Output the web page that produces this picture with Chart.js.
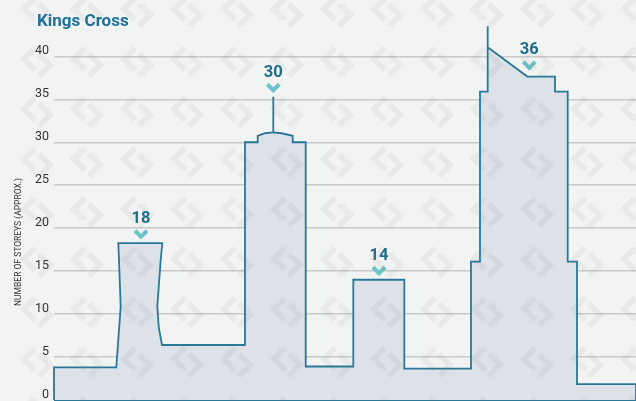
<!DOCTYPE html>
<html>
<head>
<meta charset="utf-8">
<script src="https://cdn.jsdelivr.net/npm/chart.js@4.4.1/dist/chart.umd.min.js"></script>
<style>
  html, body { margin: 0; padding: 0; background: #f2f3f3; }
  #wrap { position: relative; width: 636px; height: 401px; }
</style>
</head>
<body>
<div id="wrap"><canvas id="skylineChart"></canvas></div>
<script>
// Skyline outline, left to right: distance along the street and height in storeys
const outlineX = [0, 0, 62.3, 66.7, 65, 64.3, 108.3, 106.7, 103.3, 104.7, 108, 191, 191, 203.7, 203.7, 211, 219.3, 219.3, 219.3, 227.5, 238.7, 238.7, 251.7, 251.7, 299.3, 299.3, 350.3, 350.3, 417, 417, 426, 426, 433.7, 433.7, 433.7, 473.3, 501, 501, 513.7, 513.7, 523, 523, 582, 582];
const outlineY = [0, 3.8, 3.8, 10.9, 16.3, 18.25, 18.25, 16.3, 10.9, 8.5, 6.4, 6.4, 30.0, 30.0, 30.75, 31.05, 31.15, 35.3, 31.15, 31.05, 30.75, 30.0, 30.0, 3.9, 3.9, 14.0, 14.0, 3.65, 3.65, 16.1, 16.1, 35.9, 35.9, 43.5, 41.05, 37.65, 37.65, 35.9, 35.9, 16.1, 16.1, 1.85, 1.85, 0];

// Street level
const groundX = [0, 582];
const groundY = [0, 0];

// Height call-outs
const peakX = [87, 219.3, 325, 475.3];
const peakY = [18.25, 35.3, 14.0, 37.9];
const peakLabels = ['18', '30', '14', '36'];

const storeyTicks = [0, 5, 10, 15, 20, 25, 30, 35, 40];

const lineColor = '#2a7896';

const backgroundPlugin = {
    id: 'background',
    beforeDraw(chart) {
        const ctx = chart.ctx;
        ctx.save();
        ctx.fillStyle = '#f2f3f3';
        ctx.fillRect(0, 0, chart.width, chart.height);
        ctx.restore();
    }
};

const peakLabelsPlugin = {
    id: 'peakLabels',
    afterDatasetsDraw(chart) {
        const {ctx, scales: {x, y}} = chart;
        ctx.save();
        peakX.forEach((v, i) => {
            const px = x.getPixelForValue(v);
            const py = y.getPixelForValue(peakY[i]);
            ctx.strokeStyle = '#6cc4c6';
            ctx.lineWidth = 4;
            ctx.lineJoin = 'miter';
            ctx.beginPath();
            ctx.moveTo(px - 6, py - 12.5);
            ctx.lineTo(px, py - 6.5);
            ctx.lineTo(px + 6, py - 12.5);
            ctx.stroke();
            ctx.fillStyle = '#1f6d8c';
            ctx.font = 'bold 16.5px Roboto';
            ctx.textAlign = 'center';
            ctx.textBaseline = 'alphabetic';
            ctx.fillText(peakLabels[i], px, py - 20);
        });
        ctx.restore();
    }
};

const textPlugin = {
    id: 'texts',
    afterDraw(chart) {
        const ctx = chart.ctx;
        ctx.save();
        ctx.fillStyle = '#1c7099';
        ctx.font = 'bold 17px Roboto';
        ctx.textAlign = 'left';
        ctx.textBaseline = 'alphabetic';
        ctx.fillText('Kings Cross', 37, 26);

        ctx.translate(19, 242);
        ctx.rotate(-Math.PI / 2);
        ctx.fillStyle = '#333333';
        ctx.font = '8.5px Roboto';
        ctx.textAlign = 'center';
        ctx.textBaseline = 'middle';
        ctx.fillText('NUMBER OF STOREYS (APPROX.)', 0, 0);
        ctx.restore();
    }
};

// faint logo watermark laid over the whole picture
const watermarkPlugin = {
    id: 'watermark',
    afterDraw(chart) {
        const ctx = chart.ctx;
        ctx.save();
        ctx.strokeStyle = 'rgba(110, 120, 120, 0.08)';
        ctx.lineWidth = 6;
        ctx.lineJoin = 'miter';
        for (let cx = 37; cx < chart.width + 30; cx += 50) {
            for (let cy = 12; cy < chart.height + 30; cy += 50) {
                ctx.beginPath();
                ctx.moveTo(cx - 2, cy - 14);
                ctx.lineTo(cx - 13, cy - 3);
                ctx.lineTo(cx - 2, cy + 8);
                ctx.moveTo(cx + 2, cy - 8);
                ctx.lineTo(cx + 13, cy + 3);
                ctx.lineTo(cx + 2, cy + 14);
                ctx.stroke();
            }
        }
        ctx.restore();
    }
};

const ctx = document.getElementById('skylineChart').getContext('2d');
new Chart(ctx, {
    type: 'line',
    data: {
        datasets: [{
            data: outlineX.map((v, i) => ({x: v, y: outlineY[i]})),
            borderColor: lineColor,
            borderWidth: 1.8,
            backgroundColor: '#dde2e9',
            fill: 'origin',
            pointRadius: 0,
            tension: 0,
            clip: false
        }, {
            data: groundX.map((v, i) => ({x: v, y: groundY[i]})),
            borderColor: lineColor,
            borderWidth: 2,
            pointRadius: 0,
            fill: false,
            clip: false
        }]
    },
    options: {
        responsive: true,
        maintainAspectRatio: false,
        animation: false,
        devicePixelRatio: 1,
        layout: {
            padding: {top: 22, left: 0, right: 0, bottom: 1}
        },
        plugins: {
            legend: {display: false},
            tooltip: {enabled: false}
        },
        scales: {
            x: {
                type: 'linear',
                min: 0,
                max: 582,
                display: false
            },
            y: {
                min: 0,
                max: 44,
                border: {display: false},
                grid: {
                    color: '#c8c9c9',
                    lineWidth: 1.5,
                    drawTicks: false
                },
                ticks: {
                    stepSize: 5,
                    includeBounds: false,
                    padding: 5,
                    labelOffset: -5,
                    color: '#333333',
                    font: {family: 'Roboto', size: 12.5}
                },
                afterBuildTicks(scale) {
                    scale.ticks = storeyTicks.map(v => ({value: v}));
                },
                afterFit(scale) {
                    scale.width = 54;
                    scale.paddingTop = 0;
                    scale.paddingBottom = 0;
                }
            }
        }
    },
    plugins: [backgroundPlugin, peakLabelsPlugin, textPlugin, watermarkPlugin]
});
</script>
</body>
</html>
